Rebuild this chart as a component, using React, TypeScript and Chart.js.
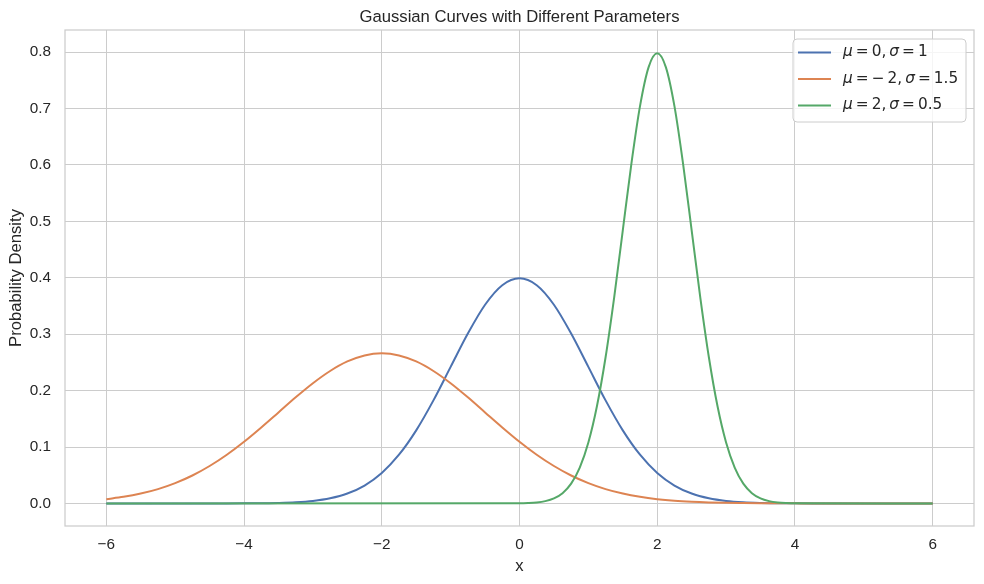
import React, { useEffect, useRef } from "react";
import { Chart, registerables } from "chart.js";

Chart.register(...registerables);

const TITLE = "Gaussian Curves with Different Parameters";
const X_LABEL = "x";
const Y_LABEL = "Probability Density";

const xValues = [
  -6, -5.75, -5.5, -5.25, -5, -4.75, -4.5, -4.25, -4, -3.75, -3.5, -3.25, -3, -2.75, -2.5, -2.25,
  -2, -1.75, -1.5, -1.25, -1, -0.75, -0.5, -0.25, 0, 0.25, 0.5, 0.75, 1, 1.25, 1.5, 1.75,
  2, 2.25, 2.5, 2.75, 3, 3.25, 3.5, 3.75, 4, 4.25, 4.5, 4.75, 5, 5.25, 5.5, 5.75, 6,
];

const blueValues = [
  0, 0, 0, 0, 0, 0, 0, 0, 0.0001, 0.0004, 0.0009, 0.002, 0.0044, 0.0091, 0.0175, 0.0317,
  0.054, 0.0863, 0.1295, 0.1826, 0.242, 0.3011, 0.3521, 0.3867, 0.3989, 0.3867, 0.3521, 0.3011, 0.242, 0.1826, 0.1295, 0.0863,
  0.054, 0.0317, 0.0175, 0.0091, 0.0044, 0.002, 0.0009, 0.0004, 0.0001, 0, 0, 0, 0, 0, 0, 0, 0,
];

const orangeValues = [
  0.0076, 0.0117, 0.0175, 0.0254, 0.036, 0.0495, 0.0663, 0.0863, 0.1093, 0.1347, 0.1613, 0.188, 0.213, 0.2347, 0.2516, 0.2623,
  0.266, 0.2623, 0.2516, 0.2347, 0.213, 0.188, 0.1613, 0.1347, 0.1093, 0.0863, 0.0663, 0.0495, 0.036, 0.0254, 0.0175, 0.0117,
  0.0076, 0.0048, 0.003, 0.0018, 0.001, 0.0006, 0.0003, 0.0002, 0.0001, 0, 0, 0, 0, 0, 0, 0, 0,
];

const greenX = [
  -6, 0, 0.125, 0.25, 0.375, 0.5, 0.625, 0.75, 0.875, 1, 1.125, 1.25, 1.375, 1.5, 1.625, 1.75, 1.875,
  2, 2.125, 2.25, 2.375, 2.5, 2.625, 2.75, 2.875, 3, 3.125, 3.25, 3.375, 3.5, 3.625, 3.75, 3.875, 4, 6,
];

const greenValues = [
  0, 0.0003, 0.0007, 0.0017, 0.0041, 0.0089, 0.0182, 0.035, 0.0635, 0.108, 0.1726, 0.2591, 0.3653, 0.4839, 0.6022, 0.7041, 0.7733,
  0.7979, 0.7733, 0.7041, 0.6022, 0.4839, 0.3653, 0.2591, 0.1726, 0.108, 0.0635, 0.035, 0.0182, 0.0089, 0.0041, 0.0017, 0.0007, 0.0003, 0,
];

const xTicks = [-6, -4, -2, 0, 2, 4, 6];
const yTicks = [0, 0.1, 0.2, 0.3, 0.4, 0.5, 0.6, 0.7, 0.8];

type Run = { t: string; i?: boolean };
const S = "\u2009";
const legendLabels: Run[][] = [
  [{ t: "μ", i: true }, { t: `${S}=${S}0,${S}` }, { t: "σ", i: true }, { t: `${S}=${S}1` }],
  [{ t: "μ", i: true }, { t: `${S}=${S}−${S}2,${S}` }, { t: "σ", i: true }, { t: `${S}=${S}1.5` }],
  [{ t: "μ", i: true }, { t: `${S}=${S}2,${S}` }, { t: "σ", i: true }, { t: `${S}=${S}0.5` }],
];

const COLORS = ["#4c72b0", "#dd8452", "#55a868"];
const TEXT = "#262626";
const SPINE = "#cccccc";

const decorPlugin = {
  id: "decor",
  afterDatasetsDraw(chart: any) {
    const { ctx, chartArea } = chart;
    const { left, right, top, bottom } = chartArea;
    ctx.save();
    ctx.strokeStyle = SPINE;
    ctx.lineWidth = 1.25;
    ctx.strokeRect(left, top, right - left, bottom - top);

    ctx.fillStyle = TEXT;
    ctx.font = '16.67px "Liberation Sans", Arial, sans-serif';
    ctx.textAlign = "center";
    ctx.textBaseline = "alphabetic";
    ctx.fillText(TITLE, (left + right) / 2, 22);
    ctx.fillText(X_LABEL, (left + right) / 2, 571);

    ctx.save();
    ctx.translate(20.5, (top + bottom) / 2);
    ctx.rotate(-Math.PI / 2);
    ctx.fillText(Y_LABEL, 0, 0);
    ctx.restore();

    const bx = 793, by = 39, bw = 173, bh = 83;
    const r = 4;
    ctx.beginPath();
    ctx.moveTo(bx + r, by);
    ctx.arcTo(bx + bw, by, bx + bw, by + bh, r);
    ctx.arcTo(bx + bw, by + bh, bx, by + bh, r);
    ctx.arcTo(bx, by + bh, bx, by, r);
    ctx.arcTo(bx, by, bx + bw, by, r);
    ctx.closePath();
    ctx.fillStyle = "rgba(255,255,255,0.8)";
    ctx.fill();
    ctx.strokeStyle = "#cccccc";
    ctx.lineWidth = 1;
    ctx.stroke();

    const rowsY = [52.5, 79, 105.5];
    legendLabels.forEach((runs, k) => {
      const y = rowsY[k];
      ctx.strokeStyle = COLORS[k];
      ctx.lineWidth = 2;
      ctx.beginPath();
      ctx.moveTo(798, y);
      ctx.lineTo(831, y);
      ctx.stroke();
      let x = 843;
      ctx.fillStyle = TEXT;
      ctx.textAlign = "left";
      ctx.textBaseline = "middle";
      runs.forEach((run) => {
        ctx.font = `${run.i ? "italic " : ""}15.3px "DejaVu Sans", sans-serif`;
        ctx.fillText(run.t, x, y);
        x += ctx.measureText(run.t).width;
      });
    });
    ctx.restore();
  },
};

export default function App() {
  const ref = useRef<HTMLCanvasElement | null>(null);
  useEffect(() => {
    if (!ref.current) return;
    const mk = (xs: number[], vals: number[]) => xs.map((x, i) => ({ x, y: vals[i] }));
    const chart = new Chart(ref.current, {
      type: "line",
      data: {
        datasets: [
          { label: "mu=0, sigma=1", data: mk(xValues, blueValues), borderColor: COLORS[0], order: 3 },
          { label: "mu=-2, sigma=1.5", data: mk(xValues, orangeValues), borderColor: COLORS[1], order: 2 },
          { label: "mu=2, sigma=0.5", data: mk(greenX, greenValues), borderColor: COLORS[2], order: 1 },
        ].map((d) => ({
          ...d,
          borderWidth: 2,
          pointRadius: 0,
          fill: false,
          cubicInterpolationMode: "monotone" as const,
        })),
      },
      options: {
        responsive: false,
        animation: false,
        layout: { padding: { top: 30, right: 10, left: 0, bottom: 0 } },
        plugins: { legend: { display: false }, title: { display: false }, tooltip: { enabled: false } },
        scales: {
          x: {
            type: "linear",
            min: -6.6,
            max: 6.6,
            afterBuildTicks: (s: any) => {
              s.ticks = xTicks.map((v) => ({ value: v }));
            },
            afterFit: (s: any) => {
              s.height = 58;
            },
            grid: { color: "#cccccc", lineWidth: 1, drawTicks: false },
            border: { display: false },
            ticks: {
              padding: 10,
              color: TEXT,
              font: { family: '"Liberation Sans", Arial, sans-serif', size: 15.3 },
              callback: (v: any) => (Number(v) < 0 ? "\u2212" + Math.abs(Number(v)) : String(v)),
              maxRotation: 0,
              autoSkip: false,
            },
          },
          y: {
            type: "linear",
            min: -0.04,
            max: 0.839,
            afterBuildTicks: (s: any) => {
              s.ticks = yTicks.map((v) => ({ value: v }));
            },
            afterFit: (s: any) => {
              s.width = 65;
            },
            grid: { color: "#cccccc", lineWidth: 1, drawTicks: false },
            border: { display: false },
            ticks: {
              padding: 14,
              color: TEXT,
              font: { family: '"Liberation Sans", Arial, sans-serif', size: 15.3 },
              callback: (v: any) => Number(v).toFixed(1),
              autoSkip: false,
            },
          },
        },
      },
      plugins: [decorPlugin],
    });
    return () => chart.destroy();
  }, []);
  return (
    <div style={{ position: "absolute", left: 0, top: 0, width: 984, height: 584, background: "#fff" }}>
      <canvas ref={ref} width={984} height={584} style={{ width: 984, height: 584, display: "block" }} />
    </div>
  );
}
